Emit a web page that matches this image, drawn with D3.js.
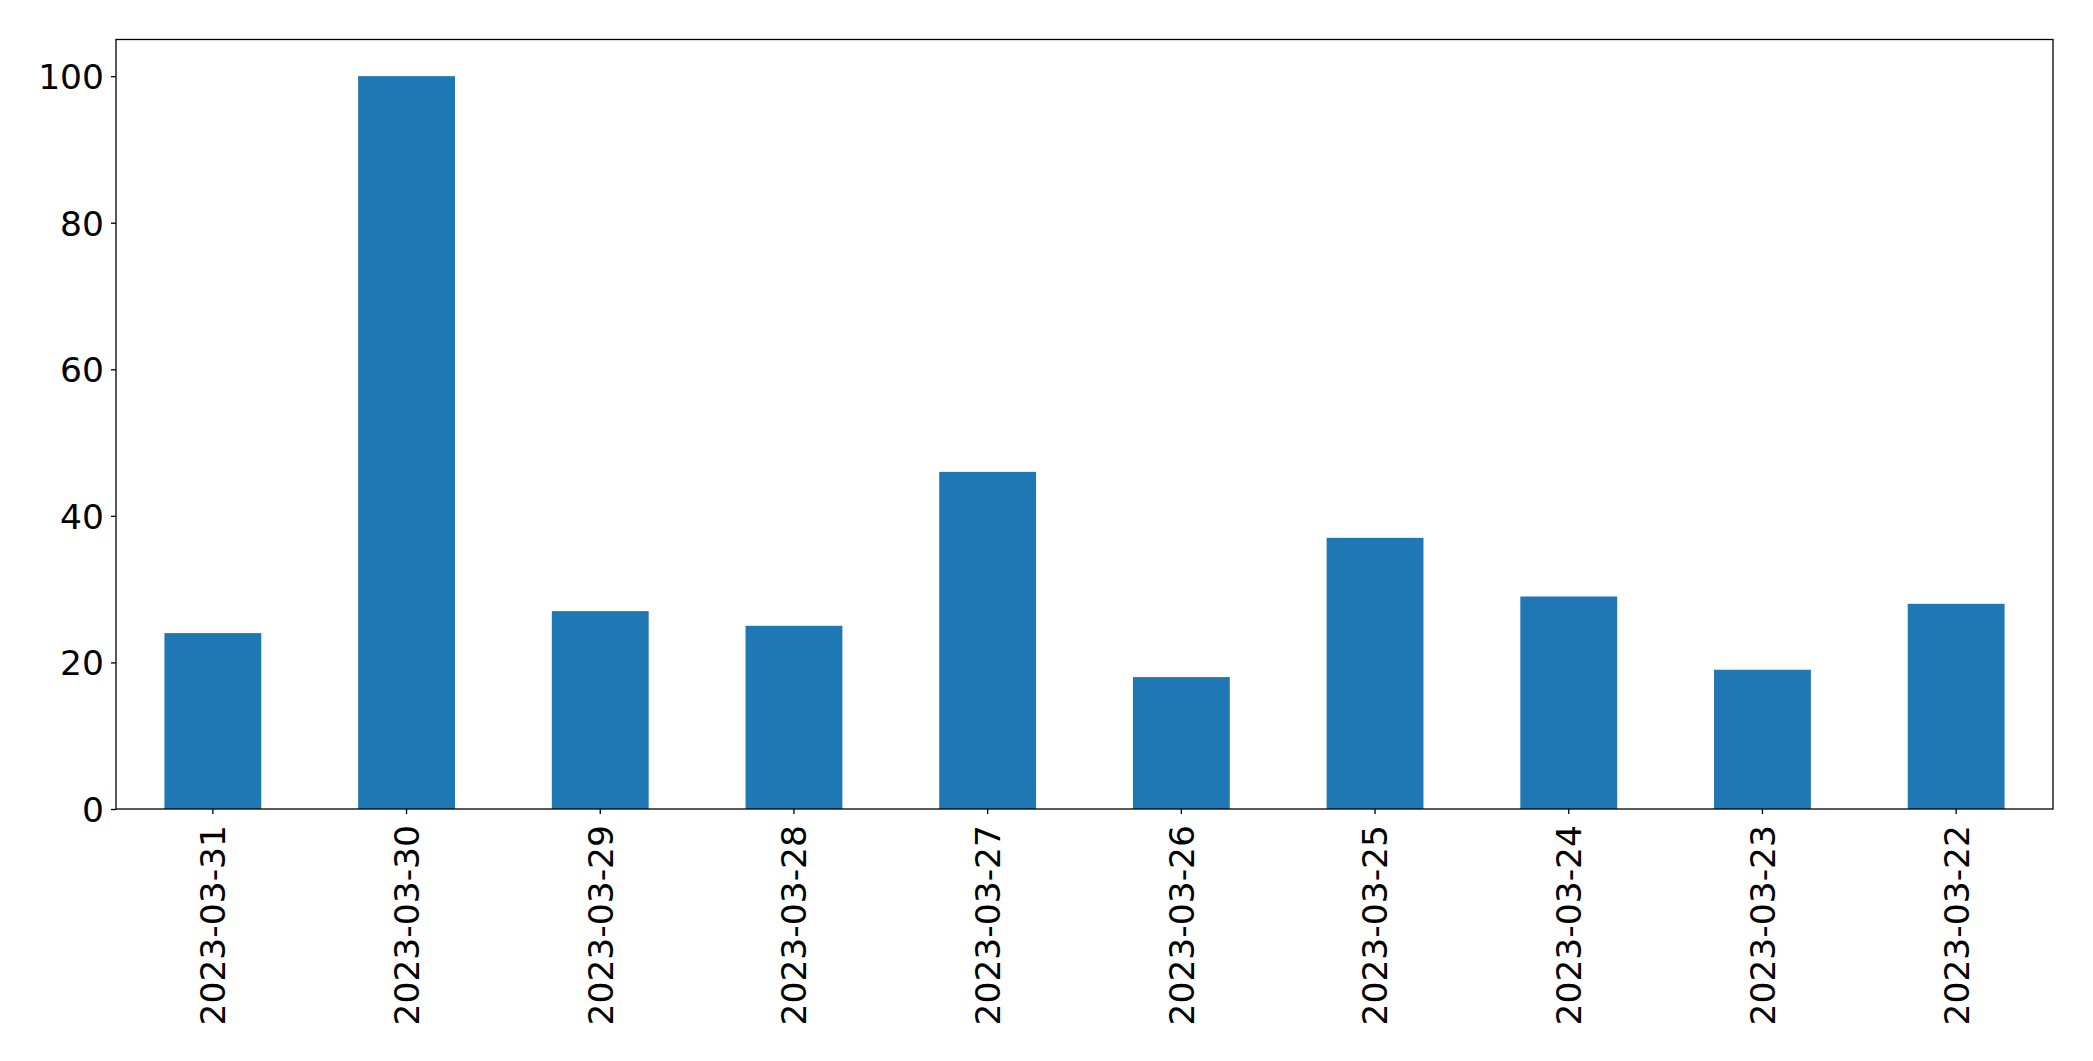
<!DOCTYPE html>
<html>
<head>
<meta charset="utf-8">
<script src="https://cdn.jsdelivr.net/npm/d3@7"></script>
<style>
  html, body { margin: 0; padding: 0; background: #fff; }
  svg { display: block; }
  text { font-family: "DejaVu Sans", sans-serif; fill: #000; }
</style>
</head>
<body>
<script>
const categories = ["2023-03-31","2023-03-30","2023-03-29","2023-03-28","2023-03-27","2023-03-26","2023-03-25","2023-03-24","2023-03-23","2023-03-22"];
const values = [24, 100, 27, 25, 46, 18, 37, 29, 19, 28];
const yTicks = [0, 20, 40, 60, 80, 100];

const W = 2093, H = 1061;
const margin = { left: 116, right: W - 2053, top: 39.5, bottom: H - 809 };
const fontPx = 34.5;

const svg = d3.select("body").append("svg").attr("width", W).attr("height", H);

const x = d3.scaleBand().domain(categories)
  .range([margin.left, W - margin.right]).paddingInner(0.5).paddingOuter(0.25);
const y = d3.scaleLinear().domain([0, 105]).range([H - margin.bottom, margin.top]);

svg.append("g").selectAll("rect").data(values).join("rect")
  .attr("x", (d, i) => x(categories[i]))
  .attr("y", d => y(d))
  .attr("width", x.bandwidth())
  .attr("height", d => y(0) - y(d))
  .attr("fill", "#1f77b4");

const yAxis = svg.append("g").attr("transform", `translate(${margin.left},0)`)
  .call(d3.axisLeft(y).tickValues(yTicks).tickSize(5).tickPadding(7).tickFormat(d3.format("d")));
yAxis.select(".domain").remove();
yAxis.selectAll("line").attr("stroke", "#000").attr("stroke-width", 1.3);
yAxis.selectAll("text").attr("font-size", fontPx).attr("font-family", "DejaVu Sans").attr("dy", "0.36em");

const xAxis = svg.append("g").attr("transform", `translate(0,${H - margin.bottom})`)
  .call(d3.axisBottom(x).tickSize(5).tickPadding(0));
xAxis.select(".domain").remove();
xAxis.selectAll("line").attr("stroke", "#000").attr("stroke-width", 1.3);
xAxis.selectAll("text")
  .attr("font-size", fontPx).attr("font-family", "DejaVu Sans")
  .attr("text-anchor", "end")
  .attr("transform", "translate(0,16) rotate(-90)")
  .attr("x", 0).attr("y", 0).attr("dy", "0.36em");

svg.append("rect")
  .attr("x", margin.left).attr("y", margin.top)
  .attr("width", W - margin.right - margin.left)
  .attr("height", H - margin.bottom - margin.top)
  .attr("fill", "none").attr("stroke", "#000").attr("stroke-width", 1.3);
</script>
</body>
</html>
